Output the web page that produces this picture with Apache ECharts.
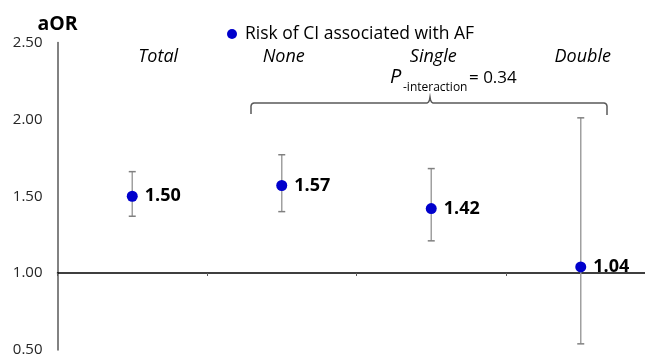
<!DOCTYPE html>
<html>
<head>
<meta charset="utf-8">
<script src="https://cdn.jsdelivr.net/npm/echarts@6/dist/echarts.min.js"></script>
<style>
html,body{margin:0;padding:0;background:#fff;}
#c{width:645px;height:358px;}
</style>
</head>
<body>
<div id="c"></div>
<script>
var categories = ['Total', 'None', 'Single', 'Double'];
var orValues = [1.50, 1.57, 1.42, 1.04];
var lowerCI = [1.37, 1.40, 1.21, 0.54];
var upperCI = [1.66, 1.77, 1.68, 2.01];
var yTicks = [0.5, 1.0, 1.5, 2.0, 2.5];
var seriesName = 'Risk of CI associated with AF';
var pInteraction = '0.34';

var FONT = '"Open Sans", "Noto Sans", sans-serif';
var chart = echarts.init(document.getElementById('c'), null, {renderer: 'canvas'});

var errData = categories.map(function (c, i) { return [i, lowerCI[i], upperCI[i]]; });
var ptData = categories.map(function (c, i) { return [i, orValues[i]]; });

var option = {
  animation: false,
  backgroundColor: '#fff',
  textStyle: {fontFamily: FONT},
  legend: {
    data: [{name: seriesName, icon: 'circle'}],
    left: 222, top: 20,
    itemWidth: 10, itemHeight: 10, itemGap: 5,
    textStyle: {fontFamily: FONT, fontSize: 17.5, color: '#000', padding: [0, 0, 0, 3]}
  },
  grid: {left: 57.5, top: 42.5, width: 598, height: 307.5, outerBoundsMode: 'none', containLabel: false},
  xAxis: [{
    type: 'category',
    data: categories,
    position: 'bottom',
    offset: -77,
    boundaryGap: true,
    axisLine: {show: true, lineStyle: {color: '#000', width: 1.5}},
    axisTick: {show: true, length: 3, lineStyle: {color: '#595959', width: 1}},
    axisLabel: {show: false},
    splitLine: {show: false}
  }, {
    type: 'category',
    data: categories,
    position: 'top',
    boundaryGap: true,
    axisLine: {show: false},
    axisTick: {show: false},
    axisLabel: {
      inside: true, margin: 5,
      formatter: function (v) { return v === 'Total' ? '{t|' + v + '}' : '{n|' + v + '}'; },
      rich: {
        t: {fontFamily: FONT, fontSize: 18, fontStyle: 'italic', color: '#000', padding: [0, 0, 0, 52]},
        n: {fontFamily: FONT, fontSize: 18, fontStyle: 'italic', color: '#000', padding: [0, 0, 0, 4]}
      }
    }
  }],
  yAxis: {
    type: 'value',
    min: 0.5, max: 2.5, interval: 0.5,
    name: 'aOR',
    nameLocation: 'end',
    nameGap: 8,
    nameTextStyle: {fontFamily: FONT, fontSize: 19.5, fontWeight: 'bold', color: '#000', align: 'center'},
    axisLine: {show: true, lineStyle: {color: '#595959', width: 1.5}},
    axisTick: {show: false},
    splitLine: {show: false},
    axisLabel: {
      margin: 15, fontFamily: FONT, fontSize: 15, color: '#262626',
      formatter: function (v) { return yTicks.indexOf(v) >= 0 ? v.toFixed(2) : ''; }
    }
  },
  series: [{
    type: 'custom',
    name: 'CI',
    xAxisIndex: 0,
    z: 1,
    data: errData,
    renderItem: function (params, api) {
      var x = api.value(0);
      var lo = api.coord([x, api.value(1)]);
      var hi = api.coord([x, api.value(2)]);
      var cap = 3.5;
      return {
        type: 'group',
        children: [
          {type: 'line', shape: {x1: lo[0], y1: lo[1], x2: hi[0], y2: hi[1]}, style: {stroke: '#a0a0a0', lineWidth: 1.5}},
          {type: 'line', shape: {x1: lo[0] - cap, y1: lo[1], x2: lo[0] + cap, y2: lo[1]}, style: {stroke: '#808080', lineWidth: 1.5}},
          {type: 'line', shape: {x1: hi[0] - cap, y1: hi[1], x2: hi[0] + cap, y2: hi[1]}, style: {stroke: '#808080', lineWidth: 1.5}}
        ]
      };
    }
  }, {
    type: 'scatter',
    name: seriesName,
    xAxisIndex: 0,
    z: 3,
    data: ptData,
    symbol: 'circle',
    symbolSize: 11,
    itemStyle: {color: '#0000CC', opacity: 1},
    label: {
      show: true, position: 'right', distance: 7,
      fontFamily: FONT, fontSize: 18, fontWeight: 'bold', color: '#000',
      formatter: function (p) { return p.value[1].toFixed(2); }
    }
  }],
  graphic: [
    {
      type: 'polyline', z: 5,
      shape: {points: [[251, 114], [251, 106], [251.5, 104.5], [252.5, 103.5], [254, 103], [427, 103], [428.5, 102], [429.5, 100], [430, 97], [430.5, 100], [431.5, 102], [433, 103], [604, 103], [605.5, 103.5], [606.5, 104.5], [607, 106], [607, 115]]},
      style: {stroke: '#595959', lineWidth: 1.5, fill: null}
    },
    {type: 'text', left: 390, top: 67, style: {text: 'P', font: 'italic 20px ' + FONT, fill: '#000'}},
    {type: 'text', left: 403, top: 82, style: {text: '-interaction', font: '12px ' + FONT, fill: '#000'}},
    {type: 'text', left: 469, top: 70, style: {text: '= ' + pInteraction, font: '17px ' + FONT, fill: '#000'}}
  ]
};
chart.setOption(option);
</script>
</body>
</html>
